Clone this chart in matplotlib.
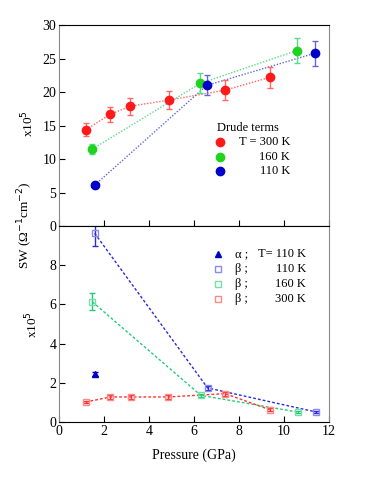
import numpy as np
import matplotlib.pyplot as plt

plt.rcParams['font.family'] = ['Liberation Serif', 'DejaVu Serif']
plt.rcParams['font.size'] = 9

# Drude terms (top panel), x10^5
p_d300 = [1.2, 2.28, 3.17, 4.87, 7.39, 9.36]
sw_d300 = [14.4, 16.7, 17.9, 18.8, 20.3, 22.2]
er_d300 = [1.0, 1.15, 1.25, 1.35, 1.45, 1.55]
p_d160 = [1.48, 6.27, 10.56]
sw_d160 = [11.5, 21.3, 26.2]
er_d160 = [0.8, 1.5, 1.85]
p_d110 = [1.58, 6.56, 11.36]
sw_d110 = [6.1, 21.0, 25.8]
er_d110 = [0.0, 1.5, 1.9]

# alpha / beta terms (bottom panel), x10^5
p_a110 = [1.6]
sw_a110 = [2.44]
er_a110 = [0.1]
p_b110 = [1.58, 6.6, 11.4]
sw_b110 = [9.63, 1.74, 0.52]
er_b110 = [0.66, 0.1, 0.05]
p_b160 = [1.48, 6.3, 10.6]
sw_b160 = [6.13, 1.36, 0.51]
er_b160 = [0.43, 0.08, 0.05]
p_b300 = [1.18, 2.28, 3.18, 4.86, 7.38, 9.36]
sw_b300 = [1.02, 1.28, 1.28, 1.28, 1.45, 0.63]
er_b300 = [0.07, 0.08, 0.08, 0.08, 0.1, 0.08]

fig = plt.figure(figsize=(3.74, 4.84), dpi=100)
ax1 = fig.add_axes([0.158, 0.533, 0.722, 0.415])
ax2 = fig.add_axes([0.158, 0.128, 0.722, 0.405])

for ax in (ax1, ax2):
    ax.set_xlim(0, 12)
    ax.spines['left'].set_color('#888888')
    ax.spines['right'].set_color('#888888')
    ax.spines['top'].set_color('black')
    ax.spines['bottom'].set_color('black')
    ax.tick_params(direction='in', length=4, width=0.8, top=False, right=False,
                   labelsize=10, pad=2)
    ax.set_xticks([0, 2, 4, 6, 8, 10, 12])

ax1.set_ylim(0, 30)
ax1.set_yticks([0, 5, 10, 15, 20, 25, 30])
ax1.tick_params(labelbottom=False)
ax2.set_ylim(0, 10)
ax2.set_yticks([0, 2, 4, 6, 8])

# top panel
tops = [(p_d300, sw_d300, er_d300, '#ff1a1a', '#ff6666'),
        (p_d160, sw_d160, er_d160, '#1ed41e', '#55dd88'),
        (p_d110, sw_d110, er_d110, '#0000c8', '#6666dd')]
for p, s, e, c, lc in tops:
    ax1.plot(p, s, ls=(0, (1, 1.2)), lw=1.0, color=lc, zorder=1)
    ax1.errorbar(p, s, yerr=e, fmt='none', ecolor=lc, elinewidth=1.0,
                 capsize=2.5, capthick=1.0, zorder=2)
    ax1.plot(p, s, 'o', ms=6, color=c, mec=c, zorder=3)

# bottom panel
bots = [(p_b110, sw_b110, er_b110, '#2a2ad8', '#8a8aee'),
        (p_b160, sw_b160, er_b160, '#22cc77', '#77ddaa'),
        (p_b300, sw_b300, er_b300, '#ff3030', '#ff8888')]
for p, s, e, c, lc in bots:
    ax2.plot(p, s, ls=(0, (2, 1.5)), lw=1.0, color=c, zorder=1)
    ax2.errorbar(p, s, yerr=e, fmt='none', ecolor=c, elinewidth=1.0,
                 capsize=2.5, capthick=1.0, zorder=2)
    ax2.plot(p, s, 's', ms=5, mfc='none', mec=lc, mew=1.0, zorder=3)
ax2.errorbar(p_a110, sw_a110, yerr=er_a110, fmt='^', ms=5, color='#0000c8',
             elinewidth=1.0, capsize=2.5, zorder=3)

ax2.set_xlabel('Pressure (GPa)', fontsize=10, labelpad=8)

# legends
ax1.text(0.583, 0.49, 'Drude terms', transform=ax1.transAxes, va='center', fontsize=9)
for i, (lab, c) in enumerate([('T = 300 K', '#ff1a1a'), ('160 K', '#1ed41e'),
                              ('110 K', '#0000c8')]):
    y = 0.42 - i * 0.074
    ax1.plot([0.596], [y], 'o', ms=6, color=c, transform=ax1.transAxes)
    ax1.text(0.856, y, lab, transform=ax1.transAxes, va='center', ha='right', fontsize=9)

leg2 = [('^', '#0000c8', 'full', 'α ;', 'T= 110 K'),
        ('s', '#8a8aee', 'none', 'β ;', '110 K'),
        ('s', '#77ddaa', 'none', 'β ;', '160 K'),
        ('s', '#ff8888', 'none', 'β ;', '300 K')]
for i, (m, c, fill, g, lab) in enumerate(leg2):
    y = 0.857 - i * 0.076
    if fill == 'none':
        ax2.plot([0.59], [y], m, ms=5, mfc='none', mec=c, transform=ax2.transAxes)
    else:
        ax2.plot([0.59], [y], m, ms=5, color=c, transform=ax2.transAxes)
    ax2.text(0.652, y, g, transform=ax2.transAxes, va='center', fontsize=9)
    ax2.text(0.915, y, lab, transform=ax2.transAxes, va='center', ha='right', fontsize=9)

fig.text(0.068, 0.535, 'SW (Ω$^{-1}$cm$^{-2}$)', rotation=90, ha='center',
         va='center', fontsize=9.5)
fig.text(0.075, 0.745, 'x10$^5$', rotation=90, ha='center', va='center', fontsize=9.5)
fig.text(0.085, 0.33, 'x10$^5$', rotation=90, ha='center', va='center', fontsize=9.5)

fig.savefig('out.png', dpi=100)
